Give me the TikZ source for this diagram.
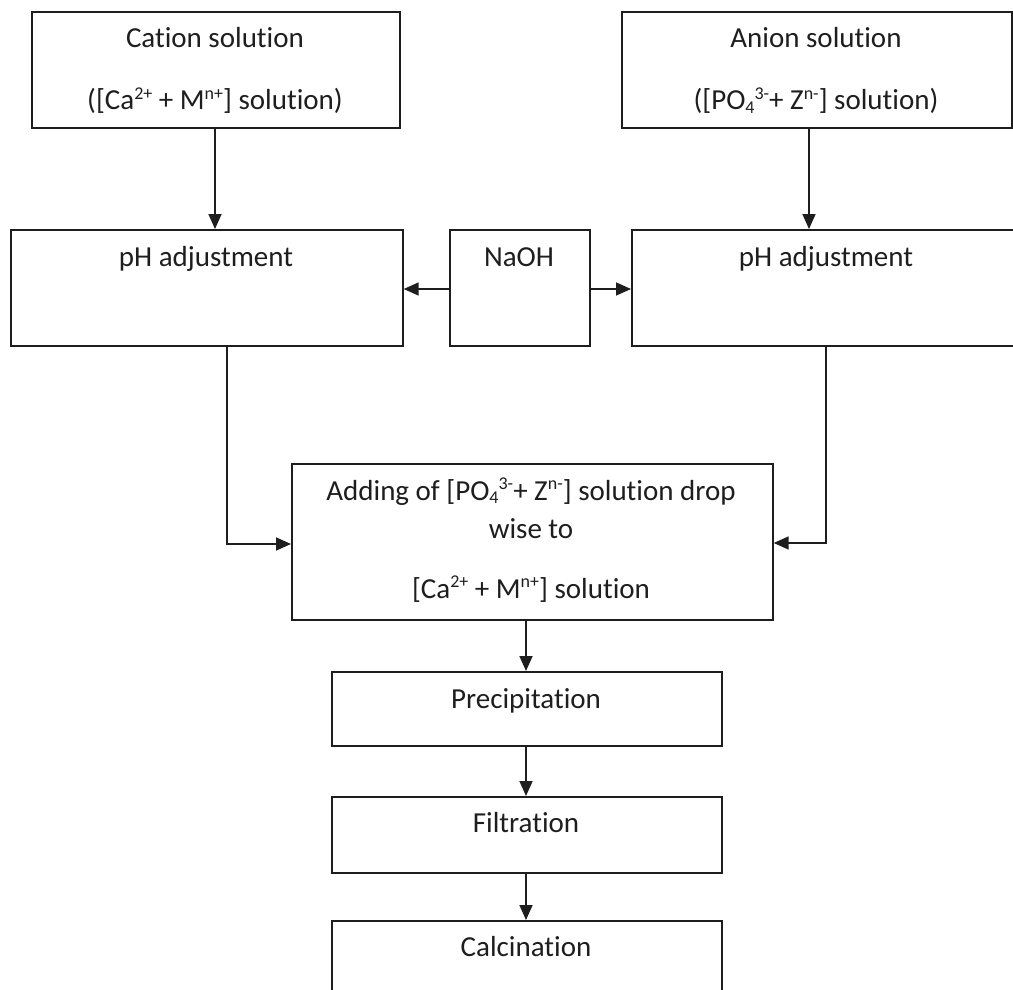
\documentclass[tikz,border=0pt]{standalone}
\usepackage{fontspec}
\setmainfont{Carlito}[RawFeature={-liga;-clig}]
\usetikzlibrary{arrows.meta}
\definecolor{ink}{HTML}{1E1E1E}
\newcommand\supx[1]{\raisebox{0.36em}{\fontsize{18}{18}\selectfont #1}}
\newcommand\subx[1]{\raisebox{-0.12em}{\fontsize{18}{18}\selectfont #1}}
\tikzset{
  box/.style={draw=ink, line width=1.7pt, anchor=north west, inner sep=0pt, fill=none},
  txt/.style={anchor=base, inner sep=0pt, text=ink, font=\fontsize{29}{35}\selectfont},
  conn/.style={draw=ink, line width=1.7pt, -{Triangle[length=15pt,width=13pt]}}
}
\begin{document}
\begin{tikzpicture}[x=1pt,y=-1pt]
\clip (0,0) rectangle (1013,990);
\fill[white] (0,0) rectangle (1013,990);
% boxes
\node[box, minimum width=368pt, minimum height=116pt] (cat) at (31,11) {};
\node[box, minimum width=390pt, minimum height=116pt] (ani) at (621,11) {};
\node[box, minimum width=392pt, minimum height=116pt] (phl) at (10,229) {};
\node[box, minimum width=140pt, minimum height=116pt] (naoh) at (449,229) {};
\node[box, minimum width=390pt, minimum height=116pt] (phr) at (631,229) {};
\node[box, minimum width=481pt, minimum height=156pt] (mix) at (291,463) {};
\node[box, minimum width=390pt, minimum height=74pt] (prec) at (331,671) {};
\node[box, minimum width=390pt, minimum height=76pt] (filt) at (331,796) {};
\node[box, minimum width=390pt, minimum height=76pt] (calc) at (331,920) {};
% texts
\node[txt] (catA) at (215,48) {Cation solution};
\node[txt] (catB) at (215,110) {([Ca\supx{2+} + M\supx{n+}] solution)};
\node[txt] (aniA) at (816,48) {Anion solution};
\node[txt] (aniB) at (816,110) {([PO\subx{4}\supx{3-}+ Z\supx{n-}] solution)};
\node[txt] (phlA) at (206,266) {pH adjustment};
\node[txt] (naohA) at (519,266) {NaOH};
\node[txt] (phrA) at (826,266) {pH adjustment};
\node[txt] (mixA) at (531,500) {Adding of [PO\subx{4}\supx{3-}+ Z\supx{n-}] solution drop};
\node[txt] (mixB) at (531,538) {wise to};
\node[txt] (mixC) at (531,598) {[Ca\supx{2+} + M\supx{n+}] solution};
\node[txt] (precA) at (526,708) {Precipitation};
\node[txt] (filtA) at (526,832) {Filtration};
\node[txt] (calcA) at (526,956) {Calcination};
% connectors
\draw[conn] (cat.south -| catA) -- (phl.north -| catA);
\draw[conn] (ani.south -| 809,0) -- (phr.north -| 809,0);
\draw[conn] (naoh.west |- 0,289) -- (phl.east |- 0,289);
\draw[conn] (naoh.east |- 0,289) -- (phr.west |- 0,289);
\coordinate (lc) at (227,544);
\coordinate (rc) at (826,543);
\draw[conn] (phl.south -| lc) -- (lc) -- (mix.west |- lc);
\draw[conn] (phr.south -| rc) -- (rc) -- (mix.east |- rc);
\draw[conn] (mix.south -| precA) -- (prec.north -| precA);
\draw[conn] (prec.south -| precA) -- (filt.north -| precA);
\draw[conn] (filt.south -| precA) -- (calc.north -| precA);
\end{tikzpicture}
\end{document}
